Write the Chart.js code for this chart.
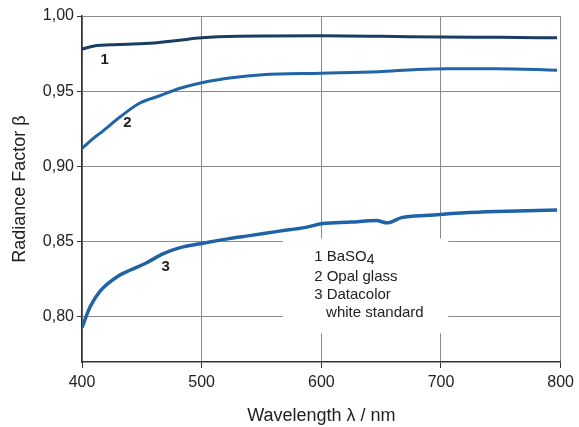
<!DOCTYPE html>
<html>
<head>
<meta charset="utf-8">
<script src="https://cdn.jsdelivr.net/npm/chart.js@4/dist/chart.umd.min.js"></script>
<style>
html,body{margin:0;padding:0;background:#fff;}
#wrap{width:579px;height:427px;position:relative;}
</style>
</head>
<body>
<div id="wrap"><canvas id="c" width="579" height="427"></canvas></div>
<script>
// Data
const wlBaSO4 = [400,410,430,460,480,500,530,600,650,700,750,797];
const baso4   = [0.978,0.980,0.981,0.982,0.9837,0.9855,0.9865,0.9868,0.9865,0.986,0.9858,0.9855];

const wlOpal = [400,410,415,432,448,465,482,502,525,551,600,648,680,705,746,797];
const opal   = [0.912,0.919,0.922,0.933,0.942,0.947,0.952,0.956,0.959,0.961,0.962,0.963,0.9645,0.965,0.965,0.964];

const wlData = [400,407,415,432,440,454,468,482,501,523,540,565,587,601,625,646,655,667,690,717,746,797];
const datacolor = [0.793,0.807,0.817,0.828,0.831,0.836,0.842,0.846,0.849,0.852,0.854,0.857,0.8595,0.862,0.863,0.864,0.8625,0.866,0.8675,0.869,0.870,0.871];

const xTicks = [400,500,600,700,800];
const yTicks = [0.80,0.85,0.90,0.95,1.00];

const curveLabels = [
  {text:'1', x:419, y:0.971},
  {text:'2', x:438, y:0.929},
  {text:'3', x:470, y:0.833}
];
const legendLines = [
  {text:'1 BaSO', sub:'4', x:594, y:0.840},
  {text:'2 Opal glass', x:594, y:0.8265},
  {text:'3 Datacolor', x:594, y:0.8145},
  {text:'white standard', x:604, y:0.8025}
];
const legendBox = {x0:568, x1:706, y0:0.852, y1:0.789};

function pts(xs, ys){ return xs.map((x,i)=>({x:x, y:ys[i]})); }

const FONT = '"Liberation Sans", Arial, sans-serif';

const annot = {
  id:'annot',
  afterDatasetsDraw(chart){
    const ctx = chart.ctx, xs = chart.scales.x, ys = chart.scales.y;
    ctx.save();
    const bx0 = xs.getPixelForValue(legendBox.x0), bx1 = xs.getPixelForValue(legendBox.x1);
    const by0 = ys.getPixelForValue(legendBox.y0), by1 = ys.getPixelForValue(legendBox.y1);
    ctx.fillStyle = '#fff';
    ctx.fillRect(bx0, by0, bx1-bx0, by1-by0);
    ctx.fillStyle = '#222';
    ctx.textBaseline = 'middle';
    ctx.textAlign = 'left';
    ctx.font = '15px ' + FONT;
    legendLines.forEach(l=>{
      const px = xs.getPixelForValue(l.x), py = ys.getPixelForValue(l.y);
      ctx.fillText(l.text, px, py);
      if (l.sub){
        const w = ctx.measureText(l.text).width;
        ctx.font = '14px ' + FONT;
        ctx.fillText(l.sub, px + w, py + 3);
        ctx.font = '15px ' + FONT;
      }
    });
    ctx.font = 'bold 15px ' + FONT;
    ctx.textAlign = 'center';
    curveLabels.forEach(l=>{
      ctx.fillText(l.text, xs.getPixelForValue(l.x), ys.getPixelForValue(l.y));
    });
    ctx.restore();
  }
};

new Chart(document.getElementById('c'), {
  type:'line',
  data:{
    datasets:[
      {label:'1 BaSO4', data:pts(wlBaSO4, baso4), borderColor:'#1b3d63', borderWidth:3, pointRadius:0, cubicInterpolationMode:'monotone'},
      {label:'2 Opal glass', data:pts(wlOpal, opal), borderColor:'#1f65a8', borderWidth:3, pointRadius:0, cubicInterpolationMode:'monotone'},
      {label:'3 Datacolor white standard', data:pts(wlData, datacolor), borderColor:'#1f63a6', borderWidth:3.5, pointRadius:0, cubicInterpolationMode:'monotone'}
    ]
  },
  options:{
    responsive:false,
    animation:false,
    layout:{padding:{top:16, right:17, left:0, bottom:0}},
    plugins:{legend:{display:false}, tooltip:{enabled:false}},
    scales:{
      x:{
        type:'linear', min:400, max:800,
        afterBuildTicks(s){ s.ticks = xTicks.map(v=>({value:v})); },
        afterFit(s){ s.height = 65; },
        grid:{color:'#8a8a8a', lineWidth:1, tickLength:6, tickColor:'#333', drawOnChartArea:true},
        border:{color:'#333', width:1.5},
        ticks:{color:'#222', font:{family:FONT, size:16}, padding:5, maxRotation:0},
        title:{display:true, text:'Wavelength \u03bb / nm', color:'#222', font:{family:FONT, size:18}, padding:{top:4, bottom:0}}
      },
      y:{
        min:0.77, max:1.00,
        afterBuildTicks(s){ s.ticks = yTicks.map(v=>({value:v})); },
        afterFit(s){ s.width = 82; },
        grid:{color:'#8a8a8a', lineWidth:1, tickLength:5, tickColor:'#333'},
        border:{color:'#333', width:1.5},
        ticks:{color:'#222', font:{family:FONT, size:16}, padding:3,
          callback:(v)=>Number(v).toFixed(2).replace('.', ',')},
        title:{display:true, text:'Radiance Factor \u03b2', color:'#222', font:{family:FONT, size:18}, padding:{top:9}}
      }
    }
  },
  plugins:[annot]
});
</script>
</body>
</html>
